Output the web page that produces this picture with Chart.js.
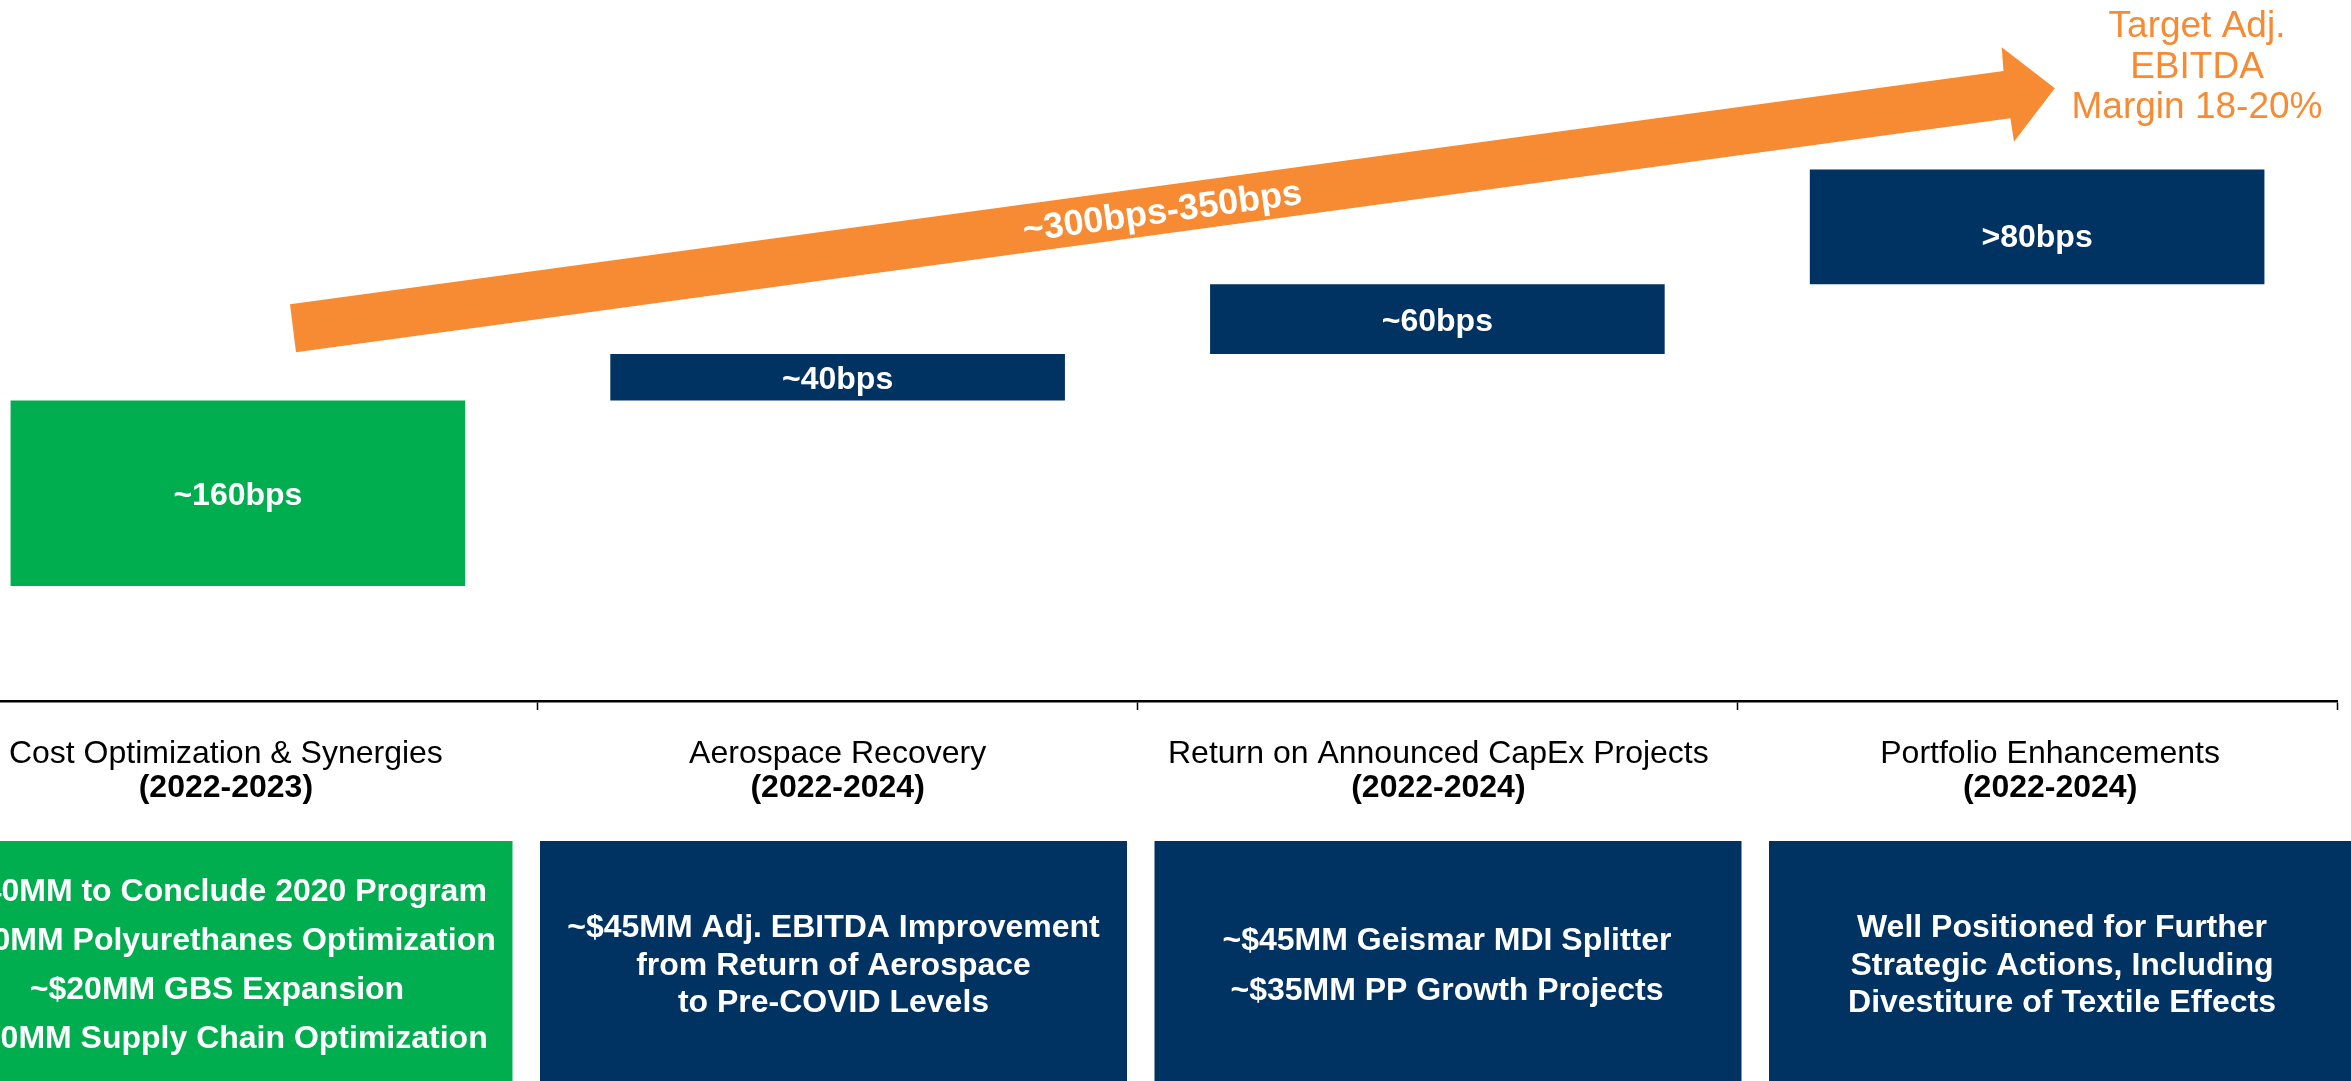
<!DOCTYPE html>
<html><head><meta charset="utf-8">
<script src="https://cdn.jsdelivr.net/npm/chart.js@4"></script>
<style>
html,body{margin:0;padding:0;background:#fff;overflow:hidden;width:2351px;height:1081px;}
#wrap{position:absolute;left:-62px;top:0;width:2413px;height:1081px;}
</style></head><body>
<div id="wrap"><canvas id="c" width="2413" height="1081"></canvas></div>
<script>
// ---- data ----
const categories = ['Cost Optimization & Synergies', 'Aerospace Recovery', 'Return on Announced CapEx Projects', 'Portfolio Enhancements'];
const periods = ['(2022-2023)', '(2022-2024)', '(2022-2024)', '(2022-2024)'];
const barStart = [0, 160, 200, 260];
const barEnd = [160, 200, 260, 359];
const barLabels = ['~160bps', '~40bps', '~60bps', '>80bps'];
const totalLabel = '~300bps-350bps';
const targetLines = ['Target Adj.', 'EBITDA', 'Margin 18-20%'];
const boxTexts = [
  ['~$40MM to Conclude 2020 Program', '~$50MM Polyurethanes Optimization', '~$20MM GBS Expansion', '~$30MM Supply Chain Optimization'],
  ['~$45MM Adj. EBITDA Improvement', 'from Return of Aerospace', 'to Pre-COVID Levels'],
  ['~$45MM Geismar MDI Splitter', '~$35MM PP Growth Projects'],
  ['Well Positioned for Further', 'Strategic Actions, Including', 'Divestiture of Textile Effects']
];

// ---- styles / layout ----
const GREEN = '#00AE50', NAVY = '#003262', ORANGE = '#F68B33';
const FONT = "'Liberation Sans', Arial, sans-serif";
const OFF = 62; // canvas is shifted left by this many px
const barColors = [GREEN, NAVY, NAVY, NAVY];
const barLabelDy = [0, 0, 0, 9];
const boxColors = [GREEN, NAVY, NAVY, NAVY];
const boxLeft = [-74.5, 540, 1154.5, 1769];
const boxWidth = 587, boxTop = 841;
const boxTextCenterX = [217, 833.5, 1447, 2062];
const boxLineGap = [49, 37.5, 50, 37.5];
const catLabelDx = [-12, 0, 1, 13];

const decor = {
  id: 'decor',
  afterDatasetsDraw(chart) {
    const ctx = chart.ctx;
    ctx.save();
    // arrow
    const P = (x, y) => [x + OFF, y];
    const pts = [P(290, 304.3), P(2003.5, 71), P(2001.7, 47.3), P(2054.8, 88.3), P(2014, 141.7), P(2010.4, 118.3), P(296, 352.3)];
    ctx.fillStyle = ORANGE;
    ctx.beginPath();
    pts.forEach((p, i) => i ? ctx.lineTo(p[0], p[1]) : ctx.moveTo(p[0], p[1]));
    ctx.closePath();
    ctx.fill();
    // arrow label
    ctx.save();
    ctx.translate(1162 + OFF, 209.7);
    ctx.rotate(-Math.atan(0.1362));
    ctx.fillStyle = '#fff';
    ctx.font = 'bold 36px ' + FONT;
    ctx.textAlign = 'center';
    ctx.textBaseline = 'alphabetic';
    ctx.fillText(totalLabel, 0, 13);
    ctx.restore();
    // target text
    ctx.fillStyle = ORANGE;
    ctx.font = '37px ' + FONT;
    ctx.textAlign = 'center';
    ctx.textBaseline = 'alphabetic';
    [37, 78, 118].forEach((y, i) => ctx.fillText(targetLines[i], 2197 + OFF, y));
    // bar labels
    const meta = chart.getDatasetMeta(0);
    ctx.fillStyle = '#fff';
    ctx.font = 'bold 32px ' + FONT;
    meta.data.forEach((el, i) => {
      const mid = (el.y + el.base) / 2;
      ctx.fillText(barLabels[i], el.x, mid + 11.5 + barLabelDy[i]);
    });
    // category labels
    const xs = chart.scales.x;
    ctx.fillStyle = '#000';
    categories.forEach((c, i) => {
      const cx = xs.getPixelForValue(i) + catLabelDx[i];
      ctx.font = '32px ' + FONT;
      ctx.fillText(c, cx, 763);
      ctx.font = 'bold 32px ' + FONT;
      ctx.fillText(periods[i], cx, 797);
    });
    // bottom boxes
    boxTexts.forEach((lines, i) => {
      ctx.fillStyle = boxColors[i];
      ctx.fillRect(boxLeft[i] + OFF, boxTop, boxWidth, 1081 - boxTop + 5);
      ctx.fillStyle = '#fff';
      ctx.font = 'bold 32px ' + FONT;
      const n = lines.length, g = boxLineGap[i];
      lines.forEach((t, j) => {
        ctx.fillText(t, boxTextCenterX[i] + OFF, 974.5 + (j - (n - 1) / 2) * g);
      });
    });
    ctx.restore();
  }
};

new Chart(document.getElementById('c').getContext('2d'), {
  type: 'bar',
  data: {
    labels: categories,
    datasets: [{
      data: barStart.map((s, i) => [s, barEnd[i]]),
      backgroundColor: barColors,
      borderWidth: 0,
      barPercentage: 0.758,
      categoryPercentage: 1
    }]
  },
  options: {
    responsive: false,
    animation: false,
    events: [],
    layout: { padding: { left: 0, right: 14, top: 0, bottom: 371 } },
    plugins: { legend: { display: false }, tooltip: { enabled: false } },
    scales: {
      x: {
        offset: true,
        grid: { offset: true, drawOnChartArea: false, drawTicks: true, tickLength: 9, tickColor: '#000', tickWidth: 1.5 },
        border: { display: true, color: '#000', width: 2.5 },
        ticks: { display: false }
      },
      y: { display: false, min: -99, max: 505 }
    }
  },
  plugins: [decor]
});
</script>
</body></html>
